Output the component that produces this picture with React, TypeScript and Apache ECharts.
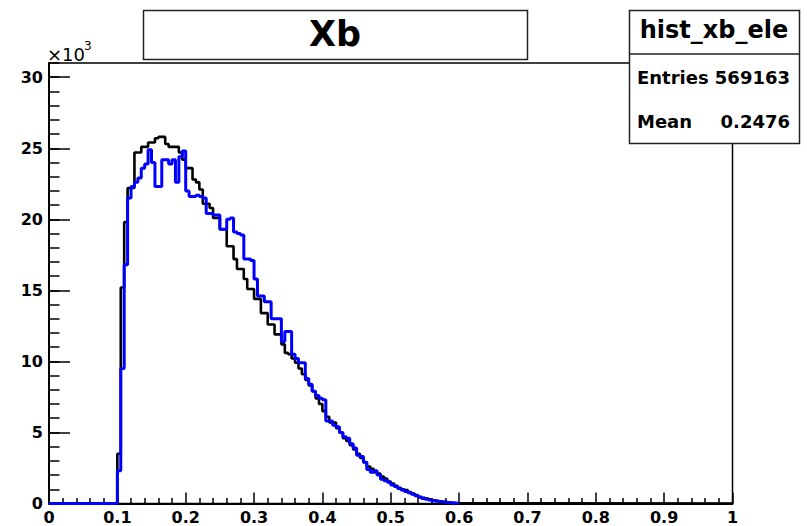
import React, { useEffect, useRef } from "react";
import * as echarts from "echarts";

// Histogram binning (x in Xb units)
const BIN_START = 0.1;
const BIN_WIDTH = 0.005;
const X_MAX = 1;
const Y_MAX = 31; // in units of 10^3

// Bin contents (x10^3), bins from 0.100 to 0.595 step 0.005
const blackCounts = [
  3.5, 15.2, 19.8, 22.2, 22.2, 24.7, 24.7, 25.1, 25.1, 25.4,
  25.4, 25.7, 25.8, 25.8, 25.3, 25.1, 25.1, 25.1, 24.7, 24.2,
  23.6, 23.6, 22.8, 22.6, 22.1, 21.1, 21.1, 20.8, 20.1, 20.1,
  19.3, 19.3, 18.1, 18.1, 17.2, 16.5, 16.5, 15.8, 15.1, 15.1,
  14.4, 14.4, 13.4, 13.4, 12.6, 12.6, 11.9, 11.9, 11.2, 10.6,
  10.5, 10.2, 9.9, 9.5, 9.1, 8.7, 8.3, 7.9, 7.4, 7.0,
  6.5, 6.1, 5.7, 5.7, 5.3, 5.0, 4.6, 4.4, 4.1, 3.8,
  3.5, 3.2, 2.9, 2.6, 2.45, 2.2, 2.1, 1.9, 1.75, 1.55,
  1.4, 1.25, 1.1, 1.0, 0.95, 0.8, 0.7, 0.6, 0.45, 0.4,
  0.35, 0.3, 0.22, 0.18, 0.14, 0.1, 0.08, 0.05, 0.03, 0.01,
];

const blueCounts = [
  2.3, 9.5, 16.8, 21.5, 22.3, 22.6, 22.9, 23.6, 23.9, 24.9,
  24.0, 22.3, 22.3, 24.2, 24.2, 23.9, 24.2, 22.6, 24.4, 24.8,
  22.0, 21.6, 21.6, 21.7, 21.6, 21.5, 20.4, 20.4, 20.3, 20.3,
  19.3, 19.3, 20.0, 20.1, 19.1, 19.0, 18.9, 17.2, 17.2, 17.1,
  15.8, 14.6, 14.6, 14.2, 14.2, 13.0, 13.0, 13.0, 11.4, 12.1,
  12.1, 10.5, 10.2, 9.9, 9.9, 8.8, 8.4, 7.9, 7.6, 7.4,
  7.3, 5.8, 5.8, 5.5, 5.4, 5.0, 4.7, 4.6, 4.2, 3.9,
  3.4, 3.3, 2.9, 2.4, 2.2, 2.3, 2.0, 1.7, 1.6, 1.5,
  1.3, 1.2, 1.05, 0.95, 0.85, 0.75, 0.65, 0.55, 0.45, 0.35,
  0.3, 0.25, 0.2, 0.15, 0.12, 0.1, 0.07, 0.05, 0.03, 0.02,
];

const TITLE = "Xb";
const STATS_NAME = "hist_xb_ele";
const STATS_ROWS = [
  ["Entries", "569163"],
  ["Mean", "0.2476"],
];

const FONT = "DejaVu Sans";

function toSteps(counts: number[], tailTo: number): number[][] {
  const pts: number[][] = [[0, 0]];
  counts.forEach((v, i) => {
    pts.push([Number((BIN_START + i * BIN_WIDTH).toFixed(4)), v]);
  });
  const end = Number((BIN_START + counts.length * BIN_WIDTH).toFixed(4));
  pts.push([end, 0]);
  if (tailTo > end) pts.push([tailTo, 0]);
  return pts;
}

export default function App() {
  const ref = useRef<HTMLDivElement>(null);

  useEffect(() => {
    document.body.style.margin = "0";
    if (!ref.current) return;
    const chart = echarts.init(ref.current, null, { renderer: "svg" });

    const axisLineStyle = { color: "#000", width: 2 };
    const tickStyle = { color: "#000", width: 1.5 };

    const statsGraphics: any[] = [
      {
        type: "rect",
        z: 100,
        shape: { x: 629.5, y: 10.5, width: 170, height: 133 },
        style: { fill: "#fff", stroke: "#222", lineWidth: 1.5 },
      },
      {
        type: "line",
        z: 101,
        shape: { x1: 629.5, y1: 54, x2: 799.5, y2: 54 },
        style: { stroke: "#222", lineWidth: 1.5 },
      },
      {
        type: "text",
        z: 102,
        x: 714,
        y: 30,
        style: {
          text: STATS_NAME,
          fontFamily: FONT,
          fontWeight: "bold",
          fontSize: 24,
          fill: "#000",
          align: "center",
          verticalAlign: "middle",
        },
      },
    ];
    STATS_ROWS.forEach((row, i) => {
      const y = 77 + i * 44;
      statsGraphics.push({
        type: "text",
        z: 102,
        x: 637,
        y,
        style: {
          text: row[0],
          fontFamily: FONT,
          fontWeight: "bold",
          fontSize: 18,
          fill: "#000",
          align: "left",
          verticalAlign: "middle",
        },
      });
      statsGraphics.push({
        type: "text",
        z: 102,
        x: 790,
        y,
        style: {
          text: row[1],
          fontFamily: FONT,
          fontWeight: "bold",
          fontSize: 18,
          fill: "#000",
          align: "right",
          verticalAlign: "middle",
        },
      });
    });

    const option: any = {
      animation: false,
      backgroundColor: "#fff",
      grid: {
        left: 49,
        right: 74.5,
        top: 63,
        bottom: 22.5,
        show: true,
        borderColor: "#000",
        borderWidth: 1.5,
        backgroundColor: "transparent",
      },
      xAxis: {
        type: "value",
        min: 0,
        max: X_MAX,
        interval: 0.1,
        axisLine: { show: true, onZero: false, lineStyle: axisLineStyle },
        axisTick: { show: true, inside: true, length: 11, lineStyle: tickStyle },
        minorTick: { show: true, splitNumber: 5, length: 5.5, lineStyle: tickStyle },
        splitLine: { show: false },
        minorSplitLine: { show: false },
        axisLabel: {
          color: "#000",
          fontFamily: FONT,
          fontWeight: "bold",
          fontSize: 16,
          margin: 6,
        },
      },
      yAxis: [
        {
          type: "value",
          min: 0,
          max: Y_MAX,
          interval: 5,
          position: "left",
          axisLine: { show: true, onZero: false, lineStyle: axisLineStyle },
          axisTick: { show: true, inside: true, length: 21, lineStyle: tickStyle },
          splitLine: { show: false },
          axisLabel: {
            color: "#000",
            fontFamily: FONT,
            fontWeight: "bold",
            fontSize: 16,
            margin: 6,
            showMaxLabel: false,
          },
        },
        {
          type: "value",
          min: 0,
          max: Y_MAX,
          interval: 1,
          position: "left",
          axisLine: { show: false },
          axisTick: { show: true, inside: true, length: 10.5, lineStyle: tickStyle },
          splitLine: { show: false },
          axisLabel: { show: false },
        },
      ],
      series: [
        {
          name: "black",
          type: "line",
          step: "end",
          yAxisIndex: 0,
          symbol: "none",
          data: toSteps(blackCounts, X_MAX),
          lineStyle: { color: "#000", width: 2.6 },
          z: 3,
        },
        {
          name: "blue",
          type: "line",
          step: "end",
          yAxisIndex: 0,
          symbol: "none",
          data: toSteps(blueCounts, 0),
          lineStyle: { color: "#0000ff", width: 3 },
          z: 4,
        },
      ],
      graphic: [
        {
          type: "rect",
          z: 100,
          shape: { x: 143.5, y: 10.5, width: 384, height: 49 },
          style: { fill: "#fff", stroke: "#222", lineWidth: 1.5 },
        },
        {
          type: "text",
          z: 101,
          x: 335,
          y: 34,
          style: {
            text: TITLE,
            fontFamily: FONT,
            fontWeight: "bold",
            fontSize: 35,
            fill: "#000",
            align: "center",
            verticalAlign: "middle",
          },
        },
        {
          type: "text",
          z: 101,
          x: 47,
          y: 54,
          style: {
            text: "×10",
            fontFamily: FONT,
            fontSize: 18,
            fill: "#000",
            align: "left",
            verticalAlign: "middle",
          },
        },
        {
          type: "text",
          z: 101,
          x: 84,
          y: 46,
          style: {
            text: "3",
            fontFamily: FONT,
            fontSize: 12,
            fill: "#000",
            align: "left",
            verticalAlign: "middle",
          },
        },
        ...statsGraphics,
      ],
    };

    chart.setOption(option);
    return () => chart.dispose();
  }, []);

  return (
    <div
      ref={ref}
      style={{ position: "fixed", left: 0, top: 0, width: 807, height: 526 }}
    />
  );
}
